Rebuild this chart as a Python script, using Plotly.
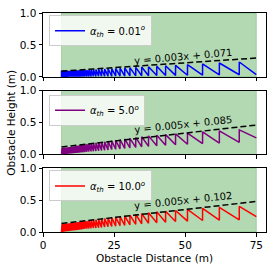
import plotly.graph_objects as go
from plotly.subplots import make_subplots

# Shared obstacle distances (m) where each tooth begins
distances = [6.50, 6.70, 6.90, 7.11, 7.33, 7.56, 7.81, 8.07, 8.34, 8.62,
             8.92, 9.23, 9.56, 9.91, 10.28, 10.67, 11.08, 11.52, 11.98, 12.47,
             12.99, 13.54, 14.13, 14.76, 15.43, 16.14, 16.91, 17.73, 18.61, 19.56,
             20.58, 21.68, 22.87, 24.16, 25.56, 27.08, 28.74, 30.56, 32.60, 34.70,
             37.10, 40.00, 43.10, 46.60, 50.80, 56.10, 62.00, 69.00]
end_distance = 75.0

# Peak heights (m) at each tooth start, and low heights at end of each tooth
blue_peaks = [0.090, 0.090, 0.091, 0.091, 0.092, 0.092, 0.093, 0.094, 0.094, 0.095,
              0.096, 0.096, 0.097, 0.098, 0.099, 0.100, 0.100, 0.101, 0.103, 0.104,
              0.105, 0.106, 0.107, 0.109, 0.110, 0.112, 0.114, 0.116, 0.118, 0.120,
              0.122, 0.125, 0.128, 0.131, 0.134, 0.137, 0.141, 0.145, 0.150, 0.155,
              0.160, 0.167, 0.174, 0.182, 0.192, 0.204, 0.218, 0.234]
blue_lows = [0.002, 0.002, 0.002, 0.002, 0.002, 0.002, 0.002, 0.002, 0.002, 0.002,
             0.004, 0.004, 0.004, 0.004, 0.004, 0.004, 0.004, 0.004, 0.004, 0.004,
             0.006, 0.006, 0.007, 0.007, 0.008, 0.008, 0.009, 0.009, 0.010, 0.010,
             0.011, 0.012, 0.012, 0.013, 0.014, 0.015, 0.016, 0.017, 0.018, 0.019,
             0.021, 0.022, 0.024, 0.026, 0.028, 0.031, 0.034, 0.036]

purple_peaks = [0.100, 0.101, 0.102, 0.104, 0.105, 0.106, 0.107, 0.109, 0.110, 0.112,
                0.114, 0.116, 0.117, 0.119, 0.122, 0.125, 0.129, 0.132, 0.136, 0.140,
                0.144, 0.148, 0.153, 0.158, 0.163, 0.167, 0.171, 0.176, 0.182, 0.187,
                0.193, 0.200, 0.207, 0.215, 0.223, 0.232, 0.242, 0.253, 0.266, 0.278,
                0.291, 0.300, 0.310, 0.322, 0.334, 0.355, 0.370, 0.385]
purple_lows = [0.001, 0.002, 0.003, 0.004, 0.005, 0.006, 0.007, 0.009, 0.010, 0.011,
               0.013, 0.014, 0.016, 0.018, 0.020, 0.022, 0.024, 0.026, 0.028, 0.030,
               0.033, 0.035, 0.039, 0.042, 0.045, 0.048, 0.051, 0.054, 0.058, 0.062,
               0.067, 0.071, 0.077, 0.082, 0.088, 0.095, 0.102, 0.110, 0.119, 0.126,
               0.135, 0.144, 0.153, 0.160, 0.170, 0.179, 0.190, 0.260]

red_peaks = [0.120, 0.121, 0.122, 0.123, 0.125, 0.126, 0.127, 0.129, 0.130, 0.132,
             0.134, 0.136, 0.137, 0.139, 0.142, 0.144, 0.146, 0.149, 0.152, 0.155,
             0.158, 0.161, 0.165, 0.169, 0.173, 0.177, 0.181, 0.186, 0.192, 0.197,
             0.203, 0.210, 0.217, 0.225, 0.233, 0.242, 0.252, 0.263, 0.276, 0.288,
             0.300, 0.315, 0.325, 0.337, 0.353, 0.370, 0.385, 0.400]
red_lows = [0.001, 0.002, 0.004, 0.005, 0.006, 0.008, 0.009, 0.011, 0.012, 0.014,
            0.016, 0.018, 0.020, 0.022, 0.024, 0.027, 0.029, 0.032, 0.035, 0.038,
            0.041, 0.045, 0.049, 0.052, 0.055, 0.058, 0.061, 0.064, 0.068, 0.072,
            0.077, 0.081, 0.087, 0.092, 0.098, 0.105, 0.112, 0.120, 0.129, 0.136,
            0.145, 0.154, 0.163, 0.170, 0.180, 0.185, 0.190, 0.240]

legend_labels = ["<i>α</i><sub><i>th</i></sub> = 0.01<sup><i>o</i></sup>",
                 "<i>α</i><sub><i>th</i></sub> = 5.0<sup><i>o</i></sup>",
                 "<i>α</i><sub><i>th</i></sub> = 10.0<sup><i>o</i></sup>"]
colors = ["blue", "purple", "red"]
fit_slopes = [0.003, 0.005, 0.005]
fit_intercepts = [0.071, 0.085, 0.102]
fit_texts = ["y = 0.003x + 0.071", "y = 0.005x + 0.085", "y = 0.005x + 0.102"]
region = [6.5, 75.0]
x_ticks = [0, 25, 50, 75]
y_ticks = [0.0, 0.5, 1.0]

FONT = "DejaVu Sans"

fig = make_subplots(rows=3, cols=1, shared_xaxes=True, vertical_spacing=0.062)


def sawtooth(peaks, lows):
    xs, ys = [distances[0]], [0.0]
    for i, d in enumerate(distances):
        nxt = distances[i + 1] if i + 1 < len(distances) else end_distance
        xs += [d, nxt]
        ys += [peaks[i], lows[i]]
    return xs, ys


series = [(blue_peaks, blue_lows), (purple_peaks, purple_lows), (red_peaks, red_lows)]
legend_names = ["legend", "legend2", "legend3"]
legend_tops = [0.99, 0.627, 0.281]
text_pos = [(49.4, 0.32, -5), (49.4, 0.47, -6), (49.4, 0.485, -6)]

for i in range(3):
    r = i + 1
    xs, ys = sawtooth(*series[i])
    fig.add_trace(go.Scatter(x=xs, y=ys, mode="lines", name=legend_labels[i],
                             line=dict(color=colors[i], width=1.5),
                             legend=legend_names[i], showlegend=True), row=r, col=1)
    fx = [region[0], region[1]]
    fy = [fit_slopes[i] * v + fit_intercepts[i] for v in fx]
    fig.add_trace(go.Scatter(x=fx, y=fy, mode="lines", showlegend=False,
                             line=dict(color="black", width=1.5, dash="6px,3px")), row=r, col=1)
    fig.add_vrect(x0=region[0], x1=region[1], row=r, col=1,
                  fillcolor="rgba(0,128,0,0.3)", line=dict(width=0.8, color="rgba(0,128,0,0.3)"),
                  layer="below", exclude_empty_subplots=False)
    tx, ty, ta = text_pos[i]
    fig.add_annotation(x=tx, y=ty, text=fit_texts[i], showarrow=False, textangle=ta,
                       font=dict(family=FONT, size=10, color="black"),
                       xref=f"x{'' if r == 1 else r}", yref=f"y{'' if r == 1 else r}")

for i in range(3):
    r = i + 1
    fig.update_xaxes(row=r, col=1, range=[0, 78.4], tickvals=x_ticks,
                     showticklabels=(r == 3), ticks="outside", ticklen=3.5,
                     tickcolor="black", showline=True, linecolor="black", linewidth=1,
                     mirror=True, showgrid=False, zeroline=False,
                     tickfont=dict(family=FONT, size=10.5, color="black"))
    fig.update_yaxes(row=r, col=1, range=[0, 1], tickvals=y_ticks, tickformat=".1f",
                     ticks="outside", ticklen=3.5, tickcolor="black", showline=True,
                     linecolor="black", linewidth=1, mirror=True, showgrid=False,
                     zeroline=False, tickfont=dict(family=FONT, size=10.5, color="black"))

fig.update_xaxes(row=3, col=1, title=dict(text="Obstacle Distance (m)", standoff=4,
                                          font=dict(family=FONT, size=10.5, color="black")))

fig.add_annotation(x=-0.147, y=0.5, xref="paper", yref="paper", text="Obstacle Height (m)",
                   showarrow=False, textangle=-90, xanchor="center", yanchor="middle",
                   font=dict(family=FONT, size=10.5, color="black"))

legend_style = dict(x=0.027, xanchor="left", yanchor="top", bgcolor="rgba(255,255,255,0.8)",
                    bordercolor="#cccccc", borderwidth=1,
                    font=dict(family=FONT, size=10, color="black"),
                    itemwidth=30, tracegroupgap=0)
fig.update_layout(
    width=274, height=270,
    margin=dict(l=43, r=7, t=11, b=38),
    paper_bgcolor="white", plot_bgcolor="white",
    font=dict(family=FONT, size=10, color="black"),
    legend=dict(y=legend_tops[0], **legend_style),
    legend2=dict(y=legend_tops[1], **legend_style),
    legend3=dict(y=legend_tops[2], **legend_style),
)

fig.write_html("out.html", config={"displayModeBar": False},
               post_script="document.body.style.margin='0px';")
